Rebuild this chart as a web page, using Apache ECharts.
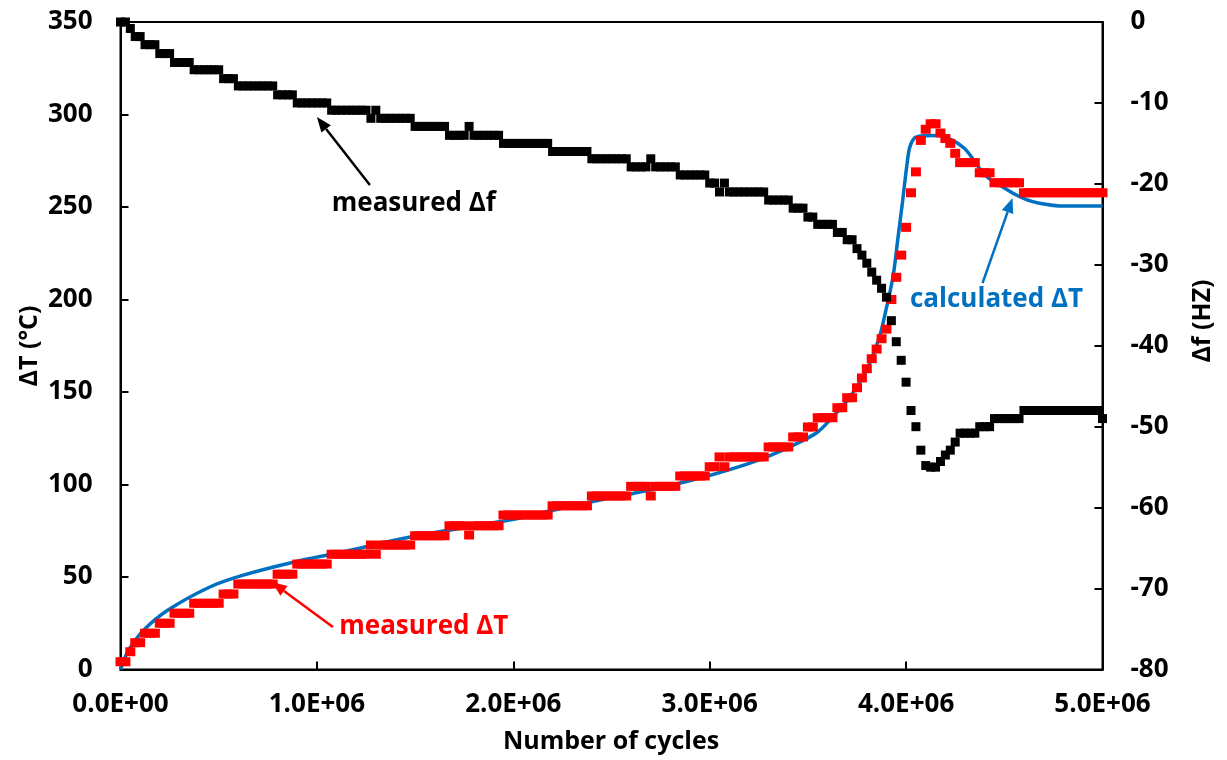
<!DOCTYPE html>
<html><head><meta charset="utf-8">
<script src="https://cdn.jsdelivr.net/npm/echarts@6/dist/echarts.min.js"></script>
<style>html,body{margin:0;padding:0;background:#fff}#c{width:1227px;height:760px}</style>
</head><body><div id="c"></div>
<script>
// Number of cycles for measured points
const cycles = [
0,25000,50000,75000,100000,125000,150000,175000,200000,225000,
250000,275000,300000,325000,350000,375000,400000,425000,450000,475000,
500000,525000,550000,575000,600000,625000,650000,675000,700000,725000,
750000,775000,800000,825000,850000,875000,900000,925000,950000,975000,
1000000,1025000,1050000,1075000,1100000,1125000,1150000,1175000,1200000,1225000,
1250000,1275000,1300000,1325000,1350000,1375000,1400000,1425000,1450000,1475000,
1500000,1525000,1550000,1575000,1600000,1625000,1650000,1675000,1700000,1725000,
1750000,1775000,1800000,1825000,1850000,1875000,1900000,1925000,1950000,1975000,
2000000,2025000,2050000,2075000,2100000,2125000,2150000,2175000,2200000,2225000,
2250000,2275000,2300000,2325000,2350000,2375000,2400000,2425000,2450000,2475000,
2500000,2525000,2550000,2575000,2600000,2625000,2650000,2675000,2700000,2725000,
2750000,2775000,2800000,2825000,2850000,2875000,2900000,2925000,2950000,2975000,
3000000,3025000,3050000,3075000,3100000,3125000,3150000,3175000,3200000,3225000,
3250000,3275000,3300000,3325000,3350000,3375000,3400000,3425000,3450000,3475000,
3500000,3525000,3550000,3575000,3600000,3625000,3650000,3675000,3700000,3725000,
3750000,3775000,3800000,3825000,3850000,3875000,3900000,3925000,3950000,3975000,
4000000,4025000,4050000,4075000,4100000,4125000,4150000,4175000,4200000,4225000,
4250000,4275000,4300000,4325000,4350000,4375000,4400000,4425000,4450000,4475000,
4500000,4525000,4550000,4575000,4600000,4625000,4650000,4675000,4700000,4725000,
4750000,4775000,4800000,4825000,4850000,4875000,4900000,4925000,4950000,4975000,
5000000];

// measured Δf (Hz), right axis
const measuredDf = [
0,0,-0.8,-1.8,-1.8,-2.8,-2.8,-2.8,-3.9,-3.9,
-3.9,-5.0,-5.0,-5.0,-5.0,-5.9,-5.9,-5.9,-5.9,-5.9,
-5.9,-7.0,-7.0,-7.0,-7.9,-7.9,-7.9,-7.9,-7.9,-7.9,
-7.9,-7.9,-9.0,-9.0,-9.0,-9.0,-10.0,-10.0,-10.0,-10.0,
-10.0,-10.0,-10.0,-10.9,-10.9,-10.9,-10.9,-10.9,-10.9,-10.9,
-10.9,-11.9,-10.9,-11.9,-11.9,-11.9,-11.9,-11.9,-11.9,-11.9,
-12.9,-12.9,-12.9,-12.9,-12.9,-12.9,-12.9,-14.0,-14.0,-14.0,
-14.0,-12.9,-14.0,-14.0,-14.0,-14.0,-14.0,-14.0,-15.0,-15.0,
-15.0,-15.0,-15.0,-15.0,-15.0,-15.0,-15.0,-15.0,-16.0,-16.0,
-16.0,-16.0,-16.0,-16.0,-16.0,-16.0,-16.9,-16.9,-16.9,-16.9,
-16.9,-16.9,-16.9,-16.9,-17.9,-17.9,-17.9,-17.9,-16.9,-17.9,
-17.9,-17.9,-17.9,-17.9,-18.9,-18.9,-18.9,-18.9,-18.9,-18.9,
-19.9,-19.9,-21.0,-19.9,-21.0,-21.0,-21.0,-21.0,-21.0,-21.0,
-21.0,-21.0,-22.0,-22.0,-22.0,-22.0,-22.0,-23.0,-23.0,-23.0,
-24.1,-24.1,-25.0,-25.0,-25.0,-25.0,-26.0,-26.0,-26.9,-26.9,
-28.0,-28.8,-29.8,-30.9,-31.9,-32.9,-34.0,-36.9,-39.5,-41.8,
-44.5,-48.0,-50.0,-52.9,-54.8,-55.0,-55.0,-54.3,-53.5,-52.9,
-51.9,-50.8,-50.8,-50.8,-50.8,-50.0,-50.0,-50.0,-49.0,-49.0,
-49.0,-49.0,-49.0,-49.0,-48.0,-48.0,-48.0,-48.0,-48.0,-48.0,
-48.0,-48.0,-48.0,-48.0,-48.0,-48.0,-48.0,-48.0,-48.0,-48.0,
-49.0];

// measured ΔT (°C), left axis
const measuredDT = [
4.2,4.2,9.6,14.5,14.5,19.6,19.6,19.6,25.0,25.0,
25.0,30.4,30.4,30.4,30.4,35.8,35.8,35.8,35.8,35.8,
35.8,40.8,40.8,40.8,46.2,46.2,46.2,46.2,46.2,46.2,
46.2,46.2,51.5,51.5,51.5,51.5,57.0,57.0,57.0,57.0,
57.0,57.0,57.0,62.3,62.3,62.3,62.3,62.3,62.3,62.3,
62.3,67.3,62.3,67.3,67.3,67.3,67.3,67.3,67.3,67.3,
72.3,72.3,72.3,72.3,72.3,72.3,72.3,77.7,77.7,77.7,
77.7,72.7,77.7,77.7,77.7,77.7,77.7,77.7,83.5,83.5,
83.5,83.5,83.5,83.5,83.5,83.5,83.5,83.5,88.5,88.5,
88.5,88.5,88.5,88.5,88.5,88.5,93.8,93.8,93.8,93.8,
93.8,93.8,93.8,93.8,99.0,99.0,99.0,99.0,93.8,99.0,
99.0,99.0,99.0,99.0,104.6,104.6,104.6,104.6,104.6,104.6,
109.6,109.6,114.9,109.6,114.9,114.9,114.9,114.9,114.9,114.9,
114.9,114.9,120.3,120.3,120.3,120.3,120.3,125.7,125.7,125.7,
131.1,131.1,136.1,136.1,136.1,136.1,141.5,141.5,146.9,146.9,
152.3,157.6,162.6,168.0,173.2,178.8,184.0,200,212,224,
239,257.7,269,286,292,295,295,290,287,284.4,
279,274,274,274,274,268.5,268.5,268.5,263.1,263.1,
263.1,263.1,263.1,263.1,257.7,257.7,257.7,257.7,257.7,257.7,
257.7,257.7,257.7,257.7,257.7,257.7,257.7,257.7,257.7,257.7,
257.7];

// calculated ΔT curve (°C)
const calcCycles = [0,25000,50000,115000,240000,455000,625000,880000,1130000,1475000,
1980000,2185000,2440000,2695000,2950000,3205000,3372000,3545000,3626000,3712000,
3799000,3865000,3901000,3916000,3936000,3957000,3982000,4002000,4018000,4043000,
4079000,4155000,4237000,4298000,4333000,4374000,4415000,4460000,4542000,4613000,
4679000,4781000,5000000];
const calcDT = [0,7,12,21,32,44.6,51,58,63.5,71.6,
80.8,85.7,91.6,97,103.5,111.6,118.6,128,136.5,147,
162,180,196,203,214,232,253,271,282,287.3,
288.4,288.6,286,281.6,277,270.8,266,263,257.6,254,
252,250.6,250.5];

const xTicks = [0,1000000,2000000,3000000,4000000,5000000];
const leftTicks = [0,50,100,150,200,250,300,350];
const rightTicks = [0,-10,-20,-30,-40,-50,-60,-70,-80];

const FONT = '"Open Sans", "Liberation Sans", sans-serif';
const chart = echarts.init(document.getElementById('c'), null, {renderer:'canvas'});

function sci(v){
  if (v === 0) return '0.0E+00';
  const e = Math.floor(Math.log10(v));
  const m = v / Math.pow(10, e);
  return m.toFixed(1) + 'E+' + String(e).padStart(2,'0');
}

const dfData = cycles.map((c,i)=>[c, measuredDf[i]]);
const dtData = cycles.map((c,i)=>[c, measuredDT[i]]);
const calcData = calcCycles.map((c,i)=>[c, calcDT[i]]);

const axisLine = {show:true, lineStyle:{color:'#000', width:2}};
const axisTick = {show:true, inside:true, length:8, lineStyle:{color:'#000', width:2}};
const labelStyle = {color:'#000', fontFamily:FONT, fontWeight:'bold', fontSize:26};

chart.setOption({
  animation:false,
  backgroundColor:'#fff',
  grid:{left:120.5, right:124.5, top:22, bottom:90.5, show:true, borderColor:'#000', borderWidth:2, backgroundColor:'transparent'},
  xAxis:{type:'value', min:0, max:5000000, interval:1000000,
    axisLine, axisTick, splitLine:{show:false},
    axisLabel:Object.assign({margin:22, formatter:v=>sci(v)}, labelStyle)},
  yAxis:[
    {type:'value', min:0, max:350, interval:50, position:'left',
      axisLine, axisTick, splitLine:{show:false},
      axisLabel:Object.assign({margin:28}, labelStyle)},
    {type:'value', min:-80, max:0, interval:10, position:'right',
      axisLine, axisTick, splitLine:{show:false},
      axisLabel:Object.assign({margin:28}, labelStyle)}
  ],
  series:[
    {name:'calculated ΔT', type:'line', yAxisIndex:0, data:calcData, showSymbol:false, symbol:'none',
      smooth:0.3, lineStyle:{color:'#0070C0', width:3.5}, z:2},
    {name:'measured ΔT', type:'scatter', yAxisIndex:0, data:dtData, symbol:'rect', symbolSize:[10,9],
      itemStyle:{color:'#FF0000', opacity:1}, z:3},
    {name:'measured Δf', type:'scatter', yAxisIndex:1, data:dfData, symbol:'rect', symbolSize:9,
      itemStyle:{color:'#000', opacity:1}, z:4}
  ]
});

// annotations in data coordinates (cycles, ΔT)
const annotations = [
  {text:'measured Δf', color:'#000', label:[1493600,251.6], tail:[1269700,261.9], head:[1000000,298.6]},
  {text:'calculated ΔT', color:'#0070C0', label:[4460500,199.7], tail:[4389300,208.9], head:[4541900,254.9]},
  {text:'measured ΔT', color:'#FF0000', label:[1544500,23.0], tail:[1081400,23.0], head:[771000,47.3]}
];

const g = [];
annotations.forEach(a=>{
  const L = chart.convertToPixel({gridIndex:0}, a.label);
  const T = chart.convertToPixel({gridIndex:0}, a.tail);
  const H = chart.convertToPixel({gridIndex:0}, a.head);
  const dx = H[0]-T[0], dy = H[1]-T[1], len = Math.hypot(dx,dy);
  const ux = dx/len, uy = dy/len, nx = -uy, ny = ux;
  const hl = 15, hw = 6;
  const bx = H[0]-ux*hl, by = H[1]-uy*hl;
  g.push({type:'text', x:L[0], y:L[1], z:10, style:{text:a.text, fill:a.color, font:'bold 26px '+FONT, align:'center', verticalAlign:'middle'}});
  g.push({type:'line', z:10, shape:{x1:T[0], y1:T[1], x2:bx, y2:by}, style:{stroke:a.color, lineWidth:2.5}});
  g.push({type:'polygon', z:10, shape:{points:[[H[0],H[1]],[bx+nx*hw,by+ny*hw],[bx-nx*hw,by-ny*hw]]}, style:{fill:a.color}});
});
// axis titles
g.push({type:'text', x:611, y:742, z:10, style:{text:'Number of cycles', fill:'#000', font:'bold 25px '+FONT, align:'center', verticalAlign:'middle'}});
g.push({type:'text', x:30, y:346, rotation:Math.PI/2, z:10, style:{text:'ΔT (°C)', fill:'#000', font:'bold 25px '+FONT, align:'center', verticalAlign:'middle'}});
g.push({type:'text', x:1203, y:321, rotation:Math.PI/2, z:10, style:{text:'Δf (HZ)', fill:'#000', font:'bold 25px '+FONT, align:'center', verticalAlign:'middle'}});
chart.setOption({graphic:g});
</script></body></html>
